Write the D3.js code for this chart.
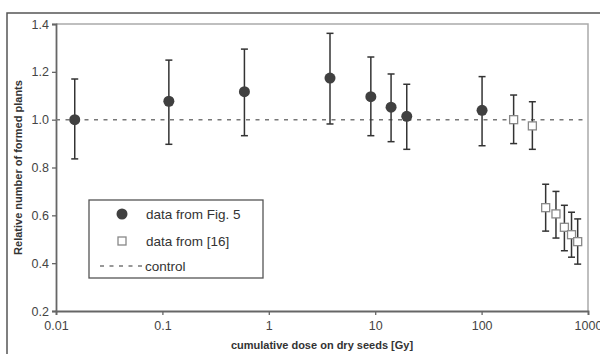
<!DOCTYPE html>
<html>
<head>
<meta charset="utf-8">
<script src="https://cdn.jsdelivr.net/npm/d3@7"></script>
<style>
  body { margin: 0; background: #fff; }
  svg { display: block; font-family: "Liberation Sans", Arial, sans-serif; }
</style>
</head>
<body>
<svg id="chart" width="600" height="354"></svg>
<script>
// data
const fig5Dose = [0.015, 0.115, 0.59, 3.76, 9.1, 14.1, 19.8, 101];
const fig5Value = [1.0, 1.077, 1.117, 1.174, 1.096, 1.052, 1.014, 1.039];
const fig5Upper = [1.17, 1.249, 1.295, 1.361, 1.262, 1.191, 1.148, 1.18];
const fig5Lower = [0.836, 0.897, 0.933, 0.982, 0.933, 0.908, 0.876, 0.891];

const refDose = [200, 300, 400, 500, 600, 700, 800];
const refValue = [1.0, 0.974, 0.632, 0.606, 0.55, 0.519, 0.49];
const refUpper = [1.103, 1.075, 0.73, 0.7, 0.642, 0.613, 0.585];
const refLower = [0.9, 0.876, 0.534, 0.505, 0.452, 0.425, 0.396];

const controlValue = 1.0;
const xTicks = [0.01, 0.1, 1, 10, 100, 1000];
const yTicks = [0.2, 0.4, 0.6, 0.8, 1.0, 1.2, 1.4];
const legendLabels = ['data from Fig. 5', 'data from [16]', 'control'];

const margin = { left: 56, right: 12, top: 24, bottom: 43 };
const W = 600, H = 354;

const svg = d3.select('#chart');

// outer frame (cut off at right and bottom)
svg.append('rect')
    .attr('x', 7).attr('y', 13)
    .attr('width', 620).attr('height', 360)
    .attr('fill', 'none')
    .attr('stroke', '#555')
    .attr('stroke-width', 1.5);

const x = d3.scaleLog()
    .domain([0.01, 1000])
    .range([margin.left, W - margin.right]);
const y = d3.scaleLinear()
    .domain([0.2, 1.4])
    .range([H - margin.bottom, margin.top]);

// plot area border (top and right, light)
svg.append('path')
    .attr('d', `M${x(0.01)},${y(1.4)}H${x(1000)}V${y(0.2)}`)
    .attr('fill', 'none')
    .attr('stroke', '#aaa')
    .attr('stroke-width', 1.5);

// axes
const xAxis = svg.append('g')
    .attr('transform', `translate(0,${y(0.2)})`)
    .call(d3.axisBottom(x).tickValues(xTicks).tickSize(4).tickPadding(6)
        .tickFormat(d => d3.format('~g')(d)));
const yAxis = svg.append('g')
    .attr('transform', `translate(${x(0.01)},0)`)
    .call(d3.axisLeft(y).tickValues(yTicks).tickSize(4).tickPadding(3)
        .tickFormat(d3.format('.1f')));

[xAxis, yAxis].forEach(a => {
    a.select('.domain').attr('stroke', '#666').attr('stroke-width', 1.8);
    a.selectAll('.tick line').attr('stroke', '#666').attr('stroke-width', 1.3);
    a.selectAll('.tick text')
        .attr('fill', '#444')
        .attr('font-size', 12.5)
        .attr('font-family', '"Liberation Sans", Arial, sans-serif');
});

// axis titles
svg.append('text')
    .attr('x', (x(0.01) + x(1000)) / 2)
    .attr('y', 349)
    .attr('text-anchor', 'middle')
    .attr('font-size', 11)
    .attr('font-weight', 'bold')
    .attr('fill', '#333')
    .text('cumulative dose on dry seeds [Gy]');
svg.append('text')
    .attr('transform', `translate(22,${(y(0.2) + y(1.4)) / 2}) rotate(-90)`)
    .attr('text-anchor', 'middle')
    .attr('font-size', 11)
    .attr('font-weight', 'bold')
    .attr('fill', '#333')
    .text('Relative number of formed plants');

// control line
svg.append('line')
    .attr('x1', x(0.01)).attr('x2', x(1000))
    .attr('y1', y(controlValue)).attr('y2', y(controlValue))
    .attr('stroke', '#777')
    .attr('stroke-width', 1.5)
    .attr('stroke-dasharray', '4,5.5');

// error bars
function errorBars(dose, lower, upper) {
    const g = svg.append('g');
    const cap = 3.5;
    dose.forEach((d, i) => {
        const cx = x(d);
        g.append('line')
            .attr('x1', cx).attr('x2', cx)
            .attr('y1', y(lower[i])).attr('y2', y(upper[i]))
            .attr('stroke', '#333').attr('stroke-width', 1.5);
        [lower[i], upper[i]].forEach(v => {
            g.append('line')
                .attr('x1', cx - cap).attr('x2', cx + cap)
                .attr('y1', y(v)).attr('y2', y(v))
                .attr('stroke', '#333').attr('stroke-width', 1.5);
        });
    });
}
errorBars(fig5Dose, fig5Lower, fig5Upper);
errorBars(refDose, refLower, refUpper);

// markers
svg.append('g').selectAll('circle')
    .data(fig5Dose)
    .enter()
    .append('circle')
    .attr('cx', d => x(d))
    .attr('cy', (d, i) => y(fig5Value[i]))
    .attr('r', 5.5)
    .attr('fill', '#404040');

svg.append('g').selectAll('rect')
    .data(refDose)
    .enter()
    .append('rect')
    .attr('x', d => x(d) - 4)
    .attr('y', (d, i) => y(refValue[i]) - 4)
    .attr('width', 8).attr('height', 8)
    .attr('fill', '#fff')
    .attr('stroke', '#888')
    .attr('stroke-width', 1.3);

// legend
const legend = svg.append('g').attr('transform', 'translate(89,200)');
legend.append('rect')
    .attr('width', 174).attr('height', 78)
    .attr('fill', '#fff')
    .attr('stroke', '#555')
    .attr('stroke-width', 1.3);
legend.append('circle')
    .attr('cx', 33).attr('cy', 14).attr('r', 5.5)
    .attr('fill', '#404040');
legend.append('rect')
    .attr('x', 29).attr('y', 37).attr('width', 8).attr('height', 8)
    .attr('fill', '#fff').attr('stroke', '#888').attr('stroke-width', 1.3);
legend.append('line')
    .attr('x1', 11).attr('x2', 55).attr('y1', 66).attr('y2', 66)
    .attr('stroke', '#777').attr('stroke-width', 1.5)
    .attr('stroke-dasharray', '4,5.5');
legend.selectAll('text.lbl')
    .data(legendLabels)
    .enter()
    .append('text')
    .attr('class', 'lbl')
    .attr('x', (d, i) => i === 2 ? 56 : 57)
    .attr('y', (d, i) => [14, 41, 66][i])
    .attr('dy', '0.35em')
    .attr('font-size', 13.5)
    .attr('fill', '#333')
    .text(d => d);
</script>
</body>
</html>
